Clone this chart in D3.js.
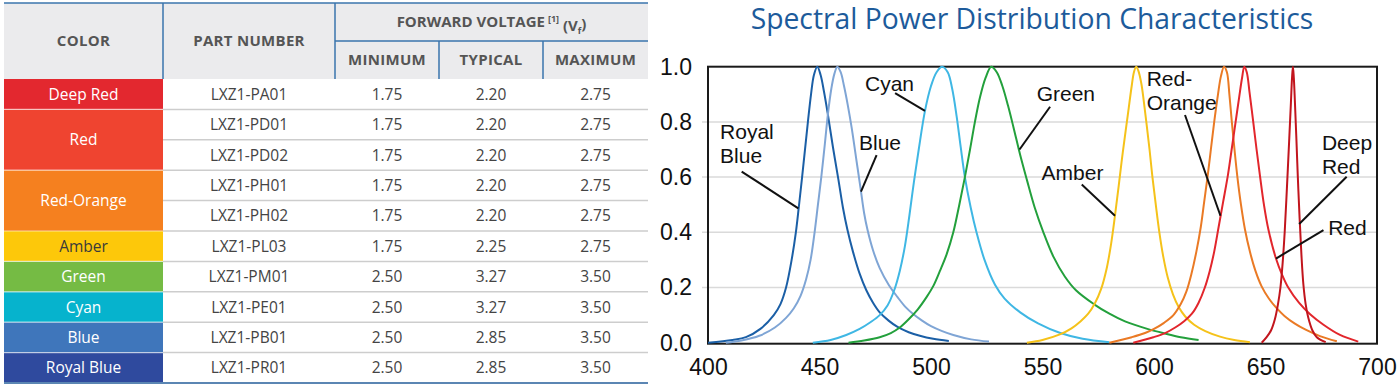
<!DOCTYPE html>
<html>
<head>
<meta charset="utf-8">
<script src="https://cdn.jsdelivr.net/npm/d3@7"></script>
<style>
  body { margin: 0; background: #fff; }
  svg { display: block; }
</style>
</head>
<body>
<div id="figure"></div>
<script>
// ---- table data ----
var colorNames = ["Deep Red", "Red", "Red-Orange", "Amber", "Green", "Cyan", "Blue", "Royal Blue"];
var colorRowSpans = [1, 2, 2, 1, 1, 1, 1, 1];
var partNumbers = ["LXZ1-PA01", "LXZ1-PD01", "LXZ1-PD02", "LXZ1-PH01", "LXZ1-PH02",
                   "LXZ1-PL03", "LXZ1-PM01", "LXZ1-PE01", "LXZ1-PB01", "LXZ1-PR01"];
var vfMinimum = ["1.75", "1.75", "1.75", "1.75", "1.75", "1.75", "2.50", "2.50", "2.50", "2.50"];
var vfTypical = ["2.20", "2.20", "2.20", "2.20", "2.20", "2.25", "3.27", "3.27", "2.85", "2.85"];
var vfMaximum = ["2.75", "2.75", "2.75", "2.75", "2.75", "2.75", "3.50", "3.50", "3.50", "3.50"];

// ---- spectral power distribution, [wavelength nm, relative power] ----
var royalBlueSpd = [[400, 0], [411, 0.01], [417, 0.02], [423.5, 0.05], [429.5, 0.1], [432.5, 0.14],
  [435, 0.2], [437.5, 0.3], [439.4, 0.4], [440.7, 0.49], [442.2, 0.6], [444.8, 0.8], [446.2, 0.9],
  [447.5, 0.97], [449, 1.0], [450.5, 0.97], [452, 0.91], [453.7, 0.83], [456, 0.71], [458.5, 0.59],
  [460.5, 0.49], [462.5, 0.41], [465, 0.33], [468, 0.25], [471, 0.19], [474, 0.145], [477, 0.11],
  [481, 0.08], [485, 0.057], [490, 0.038], [495, 0.025], [501, 0.014], [508, 0.006]];
var blueSpd = [[408, 0], [415, 0.008], [423, 0.025], [430, 0.055], [435, 0.09], [438.5, 0.125],
  [441.5, 0.17], [444, 0.23], [446, 0.3], [447.8, 0.4], [449.3, 0.5], [450.8, 0.6], [452.4, 0.72],
  [453.8, 0.83], [455.3, 0.92], [456.7, 0.975], [458, 1.0], [459.5, 0.98], [461, 0.93], [462.7, 0.86],
  [464.4, 0.78], [466.4, 0.67], [468.4, 0.56], [470, 0.47], [471.5, 0.41], [474, 0.335], [477, 0.27],
  [481, 0.21], [485, 0.165], [488.5, 0.13], [492, 0.104], [496, 0.08], [500, 0.06], [505, 0.042],
  [510, 0.028], [518, 0.012], [526, 0.004]];
var cyanSpd = [[447, 0], [455, 0.01], [462, 0.028], [468, 0.05], [473, 0.075], [477, 0.1], [480.5, 0.135],
  [483.5, 0.19], [486, 0.26], [488.3, 0.35], [490.3, 0.46], [492.3, 0.58], [494.5, 0.7], [497.3, 0.84],
  [500, 0.93], [502.5, 0.98], [505, 1.0], [507.5, 0.98], [509.5, 0.92], [511.5, 0.82], [513.3, 0.71],
  [515.2, 0.6], [517.8, 0.49], [520.4, 0.4], [524, 0.3], [528.7, 0.21], [533, 0.16], [540, 0.11],
  [548, 0.07], [558, 0.035], [568, 0.014], [580, 0.002]];
var greenSpd = [[463, 0], [470, 0.008], [477, 0.02], [482, 0.035], [486, 0.055], [490, 0.085], [494, 0.12],
  [498, 0.165], [501, 0.205], [504, 0.26], [507, 0.32], [510, 0.4], [512.7, 0.5], [515.2, 0.6],
  [517.5, 0.7], [519.7, 0.8], [522, 0.89], [524.5, 0.96], [527, 1.0], [529.5, 0.98], [532, 0.93],
  [534.5, 0.86], [537, 0.78], [540, 0.68], [543, 0.59], [546.5, 0.49], [550.4, 0.4], [555, 0.31],
  [560, 0.24], [565, 0.19], [573, 0.14], [580, 0.105], [587, 0.077], [597, 0.05], [605, 0.033],
  [612, 0.02], [620, 0.01]];
var amberSpd = [[543, 0], [550, 0.01], [557.8, 0.03], [563, 0.052], [567, 0.077], [570.5, 0.105],
  [573.5, 0.143], [576.3, 0.195], [578.8, 0.27], [580.8, 0.36], [582.5, 0.46], [584.2, 0.57], [586, 0.69],
  [588, 0.81], [590, 0.93], [591, 0.98], [592, 1.0], [593, 0.985], [594.3, 0.94], [595.5, 0.87],
  [596.7, 0.79], [598, 0.7], [599.3, 0.6], [600.8, 0.5], [602.4, 0.4], [604.2, 0.31], [606.2, 0.235],
  [608.5, 0.175], [611, 0.13], [614, 0.095], [618, 0.065], [623, 0.042], [629.6, 0.022], [636, 0.01],
  [643, 0.002]];
var redOrangeSpd = [[580, 0], [590, 0.02], [596, 0.035], [600, 0.05], [604.5, 0.072], [608.7, 0.1],
  [612, 0.14], [614.5, 0.185], [616.8, 0.25], [619, 0.33], [621, 0.42], [622.5, 0.51], [624, 0.6],
  [625.5, 0.7], [627, 0.8], [628.7, 0.9], [630, 0.965], [631.4, 1.0], [632.7, 0.98], [633.8, 0.9],
  [634.9, 0.8], [636.1, 0.7], [637.4, 0.6], [639, 0.5], [640.8, 0.41], [643, 0.33], [645.5, 0.26],
  [648.2, 0.205], [651.5, 0.16], [655, 0.125], [658.5, 0.097], [663, 0.07], [668, 0.047],
  [674.4, 0.024], [682, 0.005]];
var redSpd = [[590.7, 0], [599.7, 0.02], [605, 0.035], [609.5, 0.055], [613.5, 0.078], [617, 0.105],
  [620, 0.145], [622.8, 0.2], [625, 0.26], [627, 0.33], [629, 0.42], [631, 0.51], [633.2, 0.61],
  [635, 0.71], [636.6, 0.8], [638.2, 0.89], [639.5, 0.96], [640.5, 1.0], [641.6, 0.98], [642.8, 0.91],
  [644.5, 0.8], [646, 0.7], [647.6, 0.6], [649.3, 0.5], [651.3, 0.41], [654.7, 0.305], [657.5, 0.245],
  [660.2, 0.2], [665, 0.145], [670, 0.103], [676, 0.065], [683.4, 0.028], [691.6, 0.004]];
var deepRedSpd = [[648.3, 0], [650.5, 0.02], [652.5, 0.045], [654.2, 0.085], [655.6, 0.14], [656.7, 0.2],
  [657.7, 0.29], [658.6, 0.4], [659.6, 0.56], [660.6, 0.73], [661.4, 0.87], [661.9, 0.96], [662.3, 1.0],
  [662.7, 0.96], [663.2, 0.87], [663.8, 0.75], [664.5, 0.6], [665.3, 0.45], [666.1, 0.32], [667, 0.21],
  [668, 0.14], [669.2, 0.09], [671, 0.045], [673, 0.02], [677, 0.002]];

var wavelengthTicks = [400, 450, 500, 550, 600, 650, 700];
var powerTicks = [0, 0.2, 0.4, 0.6, 0.8, 1.0];

function drawFigure() {

  var svgWidth = 1400;
  var svgHeight = 386;

  var svg = d3.select("#figure")
    .append("svg")
    .attr("width", svgWidth)
    .attr("height", svgHeight);

  // ================= TABLE =================
  var tableFont = "'Open Sans', 'Noto Sans', sans-serif";
  var lineBlue = "#3a74ad";
  var colEdges = [4, 163, 335, 439, 543, 648];
  var headTop = 3, headMid = 41, headBottom = 79;
  var rowY = d3.scaleLinear()
    .domain([0, partNumbers.length])
    .range([headBottom, 383]);

  var cellFills = ["#e3282f", "#ef4430", "#f5801f", "#fdc80a", "#75bb44", "#06b3cd", "#3f76bb", "#2f4a9e"];
  var cellText = ["#fff", "#fff", "#fff", "#3a3a3a", "#fff", "#fff", "#fff", "#fff"];

  var table = svg.append("g");

  // header background
  table.append("rect")
    .attr("x", colEdges[0])
    .attr("y", headTop)
    .attr("width", colEdges[5] - colEdges[0])
    .attr("height", headBottom - headTop)
    .attr("fill", "#ebebed");

  // color cells (some span two rows)
  var start = 0;
  colorNames.forEach(function(name, i) {
    var y0 = rowY(start), y1 = rowY(start + colorRowSpans[i]);
    table.append("rect")
      .attr("x", colEdges[0])
      .attr("y", y0)
      .attr("width", colEdges[1] - colEdges[0])
      .attr("height", y1 - y0)
      .attr("fill", cellFills[i]);
    table.append("text")
      .attr("x", (colEdges[0] + colEdges[1]) / 2)
      .attr("y", (y0 + y1) / 2)
      .attr("dy", "0.36em")
      .attr("text-anchor", "middle")
      .attr("font-family", tableFont)
      .attr("font-size", "15.5px")
      .attr("fill", cellText[i])
      .text(name);
    if (start > 0) {
      table.append("line")
        .attr("x1", colEdges[0]).attr("x2", colEdges[1])
        .attr("y1", y0).attr("y2", y0)
        .attr("stroke", "rgba(255,255,255,0.6)")
        .attr("stroke-width", 1.2);
    }
    start += colorRowSpans[i];
  });

  // row separators in the value columns
  d3.range(1, partNumbers.length).forEach(function(r) {
    table.append("line")
      .attr("x1", colEdges[1]).attr("x2", colEdges[5])
      .attr("y1", rowY(r)).attr("y2", rowY(r))
      .attr("stroke", "#cdcdcd")
      .attr("stroke-width", 1.5);
  });

  // body text
  var columns = [partNumbers, vfMinimum, vfTypical, vfMaximum];
  columns.forEach(function(col, c) {
    table.selectAll(null)
      .data(col)
      .enter()
      .append("text")
      .attr("x", (colEdges[c + 1] + colEdges[c + 2]) / 2)
      .attr("y", (d, r) => (rowY(r) + rowY(r + 1)) / 2)
      .attr("dy", "0.36em")
      .attr("text-anchor", "middle")
      .attr("font-family", tableFont)
      .attr("font-size", "15.5px")
      .attr("fill", "#444")
      .text(d => d);
  });

  // header lines
  table.append("line")
    .attr("x1", colEdges[0]).attr("x2", colEdges[5])
    .attr("y1", headTop).attr("y2", headTop)
    .attr("stroke", lineBlue).attr("stroke-width", 1.5);
  table.append("line")
    .attr("x1", colEdges[2]).attr("x2", colEdges[5])
    .attr("y1", headMid).attr("y2", headMid)
    .attr("stroke", lineBlue).attr("stroke-width", 1.5);
  [[colEdges[1], headTop], [colEdges[2], headTop], [colEdges[3], headMid], [colEdges[4], headMid]].forEach(function(p) {
    table.append("line")
      .attr("x1", p[0]).attr("x2", p[0])
      .attr("y1", p[1]).attr("y2", headBottom)
      .attr("stroke", lineBlue).attr("stroke-width", 1.5);
  });
  table.append("line")
    .attr("x1", colEdges[0]).attr("x2", colEdges[5])
    .attr("y1", rowY(partNumbers.length)).attr("y2", rowY(partNumbers.length))
    .attr("stroke", "#5b86b3").attr("stroke-width", 2);

  // header labels
  function headText(x, y, label) {
    return table.append("text")
      .attr("x", x)
      .attr("y", y)
      .attr("dy", "0.36em")
      .attr("text-anchor", "middle")
      .attr("font-family", tableFont)
      .attr("font-size", "15px")
      .attr("font-weight", "bold")
      .attr("letter-spacing", "0.3px")
      .attr("fill", "#555")
      .text(label);
  }
  headText((colEdges[0] + colEdges[1]) / 2, (headTop + headBottom) / 2, "COLOR");
  headText((colEdges[1] + colEdges[2]) / 2, (headTop + headBottom) / 2, "PART NUMBER");
  headText((colEdges[2] + colEdges[3]) / 2, (headMid + headBottom) / 2, "MINIMUM");
  headText((colEdges[3] + colEdges[4]) / 2, (headMid + headBottom) / 2, "TYPICAL");
  headText((colEdges[4] + colEdges[5]) / 2, (headMid + headBottom) / 2, "MAXIMUM");

  var fv = headText((colEdges[2] + colEdges[5]) / 2, (headTop + headMid) / 2, "FORWARD VOLTAGE")
    .attr("letter-spacing", "0px");
  fv.append("tspan").attr("font-size", "9px").attr("dx", "3").attr("dy", "-0.6em").text("[1]");
  fv.append("tspan").attr("dy", "0.6em").text(" (V");
  fv.append("tspan").attr("font-size", "9px").attr("dy", "0.35em").text("f");
  fv.append("tspan").attr("dy", "-0.35em").text(")");

  // ================= SPECTRAL CHART =================
  var chartFont = "'Liberation Sans', Arial, sans-serif";

  var xScale = d3.scaleLinear()
    .domain([400, 700])
    .range([708, 1377]);
  var yScale = d3.scaleLinear()
    .domain([0, 1])
    .range([342.7, 66.7]);

  var chart = svg.append("g");

  chart.append("text")
    .attr("x", 1032)
    .attr("y", 29)
    .attr("text-anchor", "middle")
    .attr("font-family", tableFont)
    .attr("font-size", "28.3px")
    .attr("fill", "#1d5b9b")
    .text("Spectral Power Distribution Characteristics");

  // gridlines
  chart.selectAll(".grid")
    .data(powerTicks.filter(d => d > 0 && d < 1))
    .enter()
    .append("line")
    .attr("x1", xScale(400) - 6)
    .attr("x2", xScale(700))
    .attr("y1", d => yScale(d))
    .attr("y2", d => yScale(d))
    .attr("stroke", "#dadada")
    .attr("stroke-width", 1.5);

  // axes (labels only, the frame is drawn as a box)
  var leftAxis = d3.axisLeft(yScale)
    .tickValues(powerTicks)
    .tickFormat(d3.format(".1f"))
    .tickSize(0)
    .tickPadding(16);
  var bottomAxis = d3.axisBottom(xScale)
    .tickValues(wavelengthTicks)
    .tickFormat(d3.format("d"))
    .tickSize(0)
    .tickPadding(16);

  var gLeft = chart.append("g")
    .attr("transform", "translate(" + xScale(400) + ",0)")
    .call(leftAxis);
  var gBottom = chart.append("g")
    .attr("transform", "translate(0," + yScale(0) + ")")
    .call(bottomAxis);
  [gLeft, gBottom].forEach(function(g) {
    g.select(".domain").remove();
    g.selectAll("text")
      .attr("font-family", chartFont)
      .attr("font-size", "23px")
      .attr("fill", "#111");
  });

  // plot frame
  chart.append("rect")
    .attr("x", xScale(400))
    .attr("y", yScale(1))
    .attr("width", xScale(700) - xScale(400))
    .attr("height", yScale(0) - yScale(1) + 1)
    .attr("fill", "none")
    .attr("stroke", "#1a1a1a")
    .attr("stroke-width", 2);

  // spectral curves
  var series = [
    { data: royalBlueSpd, color: "#1b5fa6" },
    { data: blueSpd, color: "#7fa5d5" },
    { data: cyanSpd, color: "#3fb7e4" },
    { data: greenSpd, color: "#23a03c" },
    { data: amberSpd, color: "#f5c21a" },
    { data: redOrangeSpd, color: "#ea7a25" },
    { data: redSpd, color: "#e2262c" },
    { data: deepRedSpd, color: "#c2151d" }
  ];

  var lineGen = d3.line()
    .x(d => xScale(d[0]))
    .y(d => yScale(d[1]))
    .curve(d3.curveCatmullRom.alpha(0.5));

  chart.selectAll(".spd")
    .data(series)
    .enter()
    .append("path")
    .attr("d", d => lineGen(d.data))
    .attr("fill", "none")
    .attr("stroke", d => d.color)
    .attr("stroke-width", 2);

  // curve labels with pointer lines (positions in data units)
  var notes = [
    { lines: ["Royal", "Blue"], at: [405.4, 0.737], from: [415.1, 0.62], to: [440.5, 0.487] },
    { lines: ["Blue"], at: [467.7, 0.698], from: [475.6, 0.68], to: [468.6, 0.547] },
    { lines: ["Cyan"], at: [470.4, 0.913], from: [483.9, 0.904], to: [497.3, 0.84] },
    { lines: ["Green"], at: [547.4, 0.874], from: [553.4, 0.855], to: [539.7, 0.7] },
    { lines: ["Amber"], at: [549.6, 0.59], from: [567.6, 0.573], to: [582.5, 0.46] },
    { lines: ["Red-", "Orange"], at: [596.7, 0.93], from: [613.9, 0.825], to: [629.8, 0.46] },
    { lines: ["Deep", "Red"], at: [675.3, 0.698], from: [686.4, 0.601], to: [665.1, 0.43] },
    { lines: ["Red"], at: [678.1, 0.39], from: [676.0, 0.408], to: [654.7, 0.305] }
  ];

  notes.forEach(function(n) {
    chart.append("line")
      .attr("x1", xScale(n.from[0])).attr("y1", yScale(n.from[1]))
      .attr("x2", xScale(n.to[0])).attr("y2", yScale(n.to[1]))
      .attr("stroke", "#111")
      .attr("stroke-width", 2);
    var t = chart.append("text")
      .attr("x", xScale(n.at[0]))
      .attr("y", yScale(n.at[1]))
      .attr("font-family", chartFont)
      .attr("font-size", "21px")
      .attr("fill", "#111");
    n.lines.forEach(function(s, k) {
      t.append("tspan")
        .attr("x", xScale(n.at[0]))
        .attr("dy", k === 0 ? 0 : 24)
        .text(s);
    });
  });
}

drawFigure();
</script>
</body>
</html>
